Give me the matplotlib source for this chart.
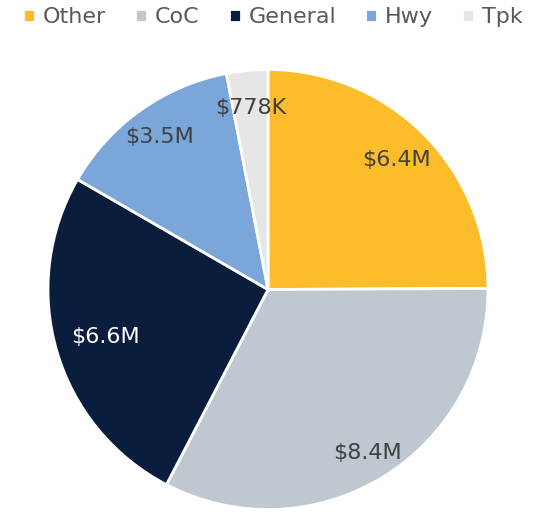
import matplotlib.pyplot as plt
import numpy as np

names = ["Other", "CoC", "General", "Hwy", "Tpk"]
values = [6.4, 8.4, 6.6, 3.5, 0.778]
value_labels = ["$6.4M", "$8.4M", "$6.6M", "$3.5M", "$778K"]
colors = ["#FDBD2B", "#BFC8D0", "#0B1D3D", "#7BA6D9", "#E6E6E6"]
text_colors = ["#404040", "#404040", "#FFFFFF", "#404040", "#404040"]
label_dist = [0.83, 0.87, 0.77, 0.85, 0.83]

fig = plt.figure(figsize=(5.57, 5.13), dpi=100)
ax = fig.add_axes([0, 0, 1, 1])

wedges, _ = ax.pie(values, colors=colors, startangle=90, counterclock=False,
                   radius=1.0, wedgeprops=dict(edgecolor="white", linewidth=2))

for w, lab, tc, r in zip(wedges, value_labels, text_colors, label_dist):
    ang = np.deg2rad((w.theta1 + w.theta2) / 2)
    ax.text(r * np.cos(ang), r * np.sin(ang), lab, ha="center", va="center",
            fontsize=16, color=tc)

ax.set_xlim(-268 / 220, (557 - 268) / 220)
ax.set_ylim(-223.5 / 220, 289.5 / 220)
ax.set_aspect("auto")
ax.axis("off")

leg = fig.legend(wedges, names, loc="upper center", bbox_to_anchor=(0.49, 1.025),
                 ncol=5, frameon=False, fontsize=16, handlelength=0.55,
                 handleheight=0.55, handletextpad=0.35, columnspacing=1.3)
for t in leg.get_texts():
    t.set_color("#595959")

fig.savefig("out.png", dpi=100)
